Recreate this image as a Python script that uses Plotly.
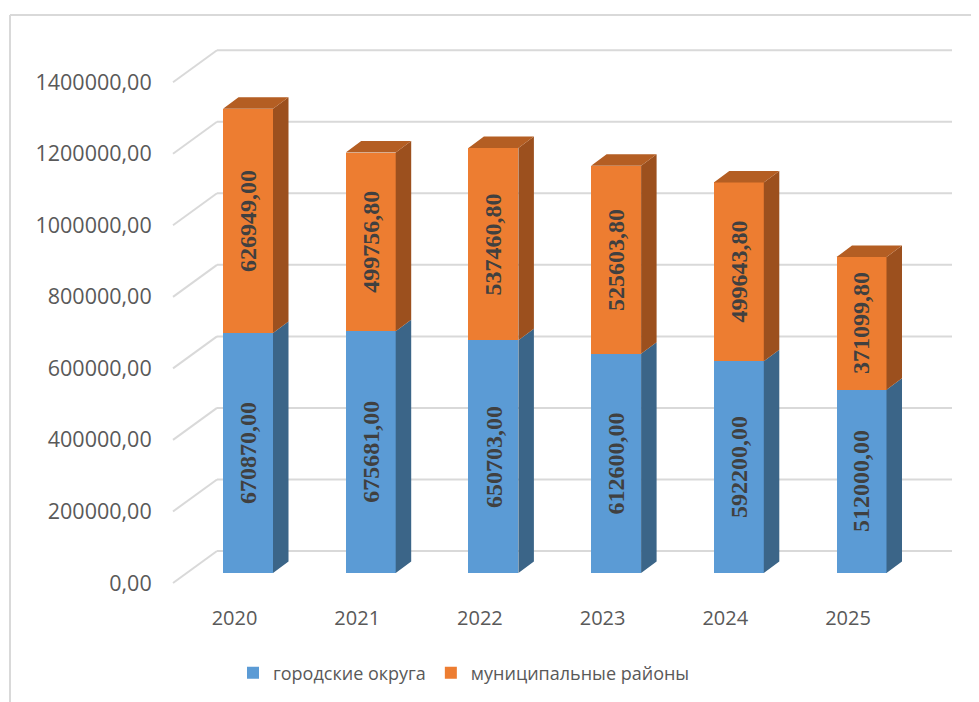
import plotly.graph_objects as go

years = ["2020", "2021", "2022", "2023", "2024", "2025"]
gorod = [670870.00, 675681.00, 650703.00, 612600.00, 592200.00, 512000.00]
munic = [626949.00, 499756.80, 537460.80, 525603.80, 499643.80, 371099.80]
series_names = ["городские округа", "муниципальные районы"]
y_ticks = [0, 200000, 400000, 600000, 800000, 1000000, 1200000, 1400000]

def fmt(v):
    return f"{v:.2f}".replace(".", ",")

# layout geometry (pixels, in screenshot coords; page body has an 8px margin)
OFF = 8
W, H = 979, 702
REF_L, REF_R, REF_T, REF_B = 160, 960, 40, 596
ML, MT = REF_L - OFF, REF_T - OFF
MR = W - (REF_R - OFF)
MB = H - (REF_B - OFF)
PX_L, PX_R, PX_T, PX_B = REF_L, REF_R, REF_T, REF_B
ZERO_PX = 573.0          # bar front bottom
SCALE = 357.7 / 1e6      # px per unit
CAT0_PX = 248.0
CAT_STEP = 122.7

ymax = (ZERO_PX - PX_T) / SCALE
ymin = -(PX_B - ZERO_PX) / SCALE
x0 = (PX_L - CAT0_PX) / CAT_STEP
x1 = (PX_R - CAT0_PX) / CAT_STEP

def px2dy(p):
    return p / SCALE

def px2dx(p):
    return p / CAT_STEP

def paper_x(p):
    return (p - PX_L) / (PX_R - PX_L)

def paper_y(p):
    return (PX_B - p) / (PX_B - PX_T)

xs = list(range(len(years)))
bw = px2dx(50)
ddx = px2dx(15.5)
ddy = px2dy(11.5)

blue = "#5B9BD5"
blue_side = "#3B6588"
orange = "#ED7D31"
orange_side = "#9C501E"
orange_top = "#B45E23"

fig = go.Figure()
fig.add_trace(go.Bar(x=xs, y=gorod, width=bw, name=series_names[0],
                     marker=dict(color=blue, line=dict(width=0))))
fig.add_trace(go.Bar(x=xs, y=munic, width=bw, name=series_names[1],
                     marker=dict(color=orange, line=dict(width=0))))

def side_polys(bases, tops):
    px, py = [], []
    for xi, b, t in zip(xs, bases, tops):
        xr = xi + bw / 2
        px += [xr, xr + ddx, xr + ddx, xr, xr, None]
        py += [b, b + ddy, t + ddy, t, b, None]
    return px, py

def top_polys(tops):
    px, py = [], []
    for xi, t in zip(xs, tops):
        xl = xi - bw / 2
        xr = xi + bw / 2
        px += [xl, xl + ddx, xr + ddx, xr, xl, None]
        py += [t, t + ddy, t + ddy, t, t, None]
    return px, py

tot = [a + b for a, b in zip(gorod, munic)]
sx, sy = side_polys([0] * len(xs), gorod)
fig.add_trace(go.Scatter(x=sx, y=sy, fill="toself", fillcolor=blue_side, mode="lines",
                         line=dict(width=0), showlegend=False, hoverinfo="skip"))
sx, sy = side_polys(gorod, tot)
fig.add_trace(go.Scatter(x=sx, y=sy, fill="toself", fillcolor=orange_side, mode="lines",
                         line=dict(width=0), showlegend=False, hoverinfo="skip"))
tx, ty = top_polys(tot)
fig.add_trace(go.Scatter(x=tx, y=ty, fill="toself", fillcolor=orange_top, mode="lines",
                         line=dict(width=0), showlegend=False, hoverinfo="skip"))

# data labels
for xi, g, m in zip(xs, gorod, munic):
    for base, v in ((0, g), (g, m)):
        fig.add_annotation(x=xi, y=base + v / 2, text=fmt(v), textangle=-90,
                           showarrow=False,
                           font=dict(family="Liberation Serif", size=24, color="#404040",
                                     weight="bold"))

# 3D gridlines: back wall + diagonal on left floor side
wall_dy = px2dy(22)     # back wall above bar front plane
front_dy = px2dy(-10)   # axis front plane below bar front plane
wall_left = px2dx(217 - CAT0_PX)
wall_right = px2dx(952 - CAT0_PX)
front_left = px2dx(173 - CAT0_PX)
shapes = []
for v in y_ticks:
    shapes.append(dict(type="line", xref="x", yref="y", x0=wall_left, x1=wall_right,
                       y0=v + wall_dy, y1=v + wall_dy,
                       line=dict(color="#D9D9D9", width=2), layer="below"))
    shapes.append(dict(type="line", xref="x", yref="y", x0=front_left, x1=wall_left,
                       y0=v + front_dy, y1=v + wall_dy,
                       line=dict(color="#D9D9D9", width=2), layer="below"))
# chart frame
fx = paper_x(10)
fy_top = paper_y(15)
fy_bot = paper_y(H + 20)
shapes.append(dict(type="line", xref="paper", yref="paper", x0=fx, x1=1.2, y0=fy_top, y1=fy_top,
                   line=dict(color="#D9D9D9", width=2)))
shapes.append(dict(type="line", xref="paper", yref="paper", x0=fx, x1=fx, y0=fy_top, y1=fy_bot,
                   line=dict(color="#D9D9D9", width=2)))

fig.update_layout(
    width=W, height=H,
    margin=dict(l=ML, r=MR, t=MT, b=MB, autoexpand=False),
    paper_bgcolor="white", plot_bgcolor="white",
    barmode="stack",
    shapes=shapes,
    showlegend=True,
    legend=dict(orientation="h", x=paper_x(464), xanchor="center",
                y=paper_y(673), yanchor="middle",
                font=dict(family="Open Sans", size=18, color="#595959"),
                itemwidth=30, traceorder="normal"),
    xaxis=dict(range=[x0, x1], tickvals=[x - px2dx(13.5) for x in xs], ticktext=years,
               showgrid=False, zeroline=False, showline=False, automargin=False,
               ticks="outside", ticklen=4, tickcolor="rgba(0,0,0,0)",
               tickfont=dict(family="Open Sans", size=20, color="#595959")),
    yaxis=dict(range=[ymin, ymax], tickvals=y_ticks, ticktext=[fmt(v) for v in y_ticks],
               showgrid=False, zeroline=False, showline=False, automargin=False,
               ticklabelshift=10, ticks="outside", ticklen=3, tickcolor="rgba(0,0,0,0)",
               tickfont=dict(family="Open Sans", size=21.5, color="#595959")),
)

fig.write_html("out.html")
